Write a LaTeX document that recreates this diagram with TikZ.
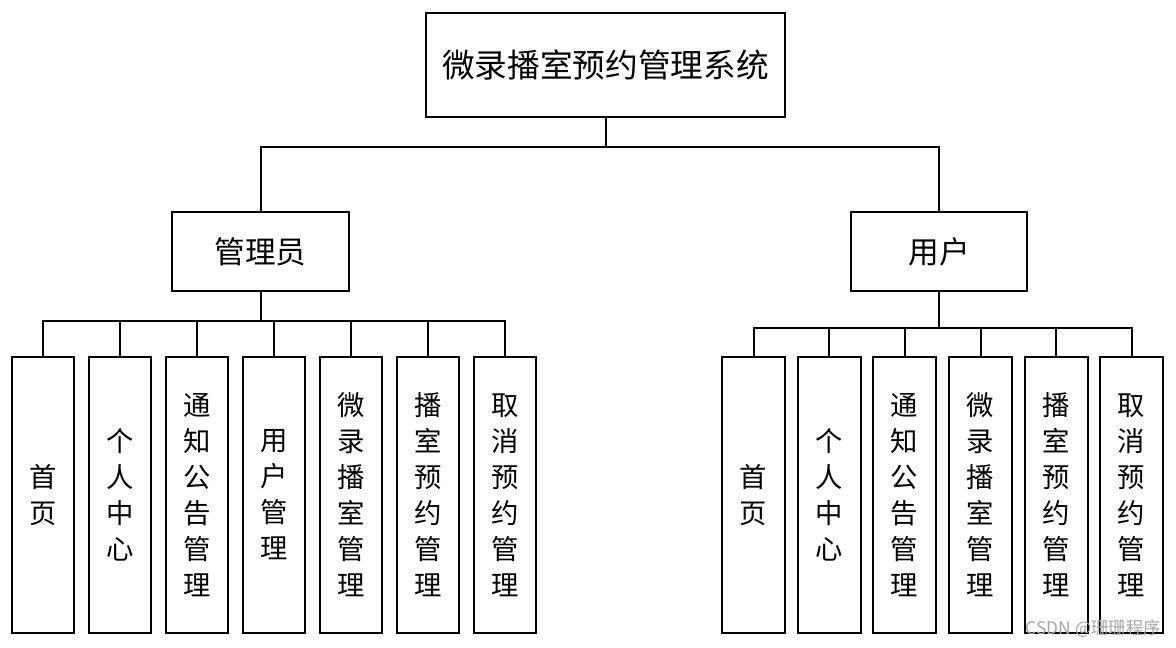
\documentclass[tikz,border=0pt]{standalone}
\usepackage{fontspec}
\newfontfamily\cjk{Noto Sans CJK SC}
\begin{document}
\begin{tikzpicture}[x=0.75pt,y=-0.75pt,
  box/.style={draw=black,line width=1.5pt,fill=white,inner sep=0pt,font=\cjk},
  vbox/.style={box,minimum width=62*0.75pt,minimum height=276*0.75pt,align=center,
     font=\cjk\fontsize{20.5}{27}\selectfont},
  link/.style={line width=1.5pt,line cap=rect}]
\useasboundingbox (0,0) rectangle (1176,648);
\node[box,minimum width=359*0.75pt,minimum height=104*0.75pt,font=\cjk\fontsize{24.5}{28}\selectfont] (root) at (605.5,65) {微录播室预约管理系统};
\node[box,minimum width=177*0.75pt,minimum height=79*0.75pt,font=\cjk\fontsize{23}{28}\selectfont] (admin) at (260.5,251.5) {管理员};
\node[box,minimum width=176*0.75pt,minimum height=79*0.75pt,font=\cjk\fontsize{23}{28}\selectfont] (user) at (939,251.5) {用户};
% left children
\node[vbox] (a1) at (43,495) {首\\页};
\node[vbox] (a2) at (120,495) {个\\人\\中\\心};
\node[vbox] (a3) at (197,495) {通\\知\\公\\告\\管\\理};
\node[vbox] (a4) at (274,495) {用\\户\\管\\理};
\node[vbox] (a5) at (351,495) {微\\录\\播\\室\\管\\理};
\node[vbox] (a6) at (428,495) {播\\室\\预\\约\\管\\理};
\node[vbox] (a7) at (505,495) {取\\消\\预\\约\\管\\理};
% right children
\node[vbox,minimum width=63*0.75pt] (b1) at (753.5,495) {首\\页};
\node[vbox,minimum width=63*0.75pt] (b2) at (829,495) {个\\人\\中\\心};
\node[vbox,minimum width=63*0.75pt] (b3) at (904.5,495) {通\\知\\公\\告\\管\\理};
\node[vbox,minimum width=63*0.75pt] (b4) at (980.5,495) {微\\录\\播\\室\\管\\理};
\node[vbox,minimum width=63*0.75pt] (b5) at (1056,495) {播\\室\\预\\约\\管\\理};
\node[vbox,minimum width=63*0.75pt] (b6) at (1131.5,495) {取\\消\\预\\约\\管\\理};
% connectors
\coordinate (rb) at (605.5,147);
\draw[link] (root.south) -- (rb);
\draw[link] (admin.north) |- (rb);
\draw[link] (user.north) |- (rb);
\coordinate (lb) at (260.5,321);
\draw[link] (admin.south) -- (lb);
\foreach \n in {a1,a2,a3,a4,a5,a6,a7}{\draw[link] (\n.north) |- (lb);}
\coordinate (ub) at (939,328);
\draw[link] (user.south) -- (ub);
\foreach \n in {b1,b2,b3,b4,b5,b6}{\draw[link] (\n.north) |- (ub);}
\node[text=black!35,font=\cjk\fontsize{13}{14}\selectfont,anchor=east,inner sep=0pt] (wm) at (1161,629) {CSDN @珊珊程序};
\end{tikzpicture}
\end{document}
